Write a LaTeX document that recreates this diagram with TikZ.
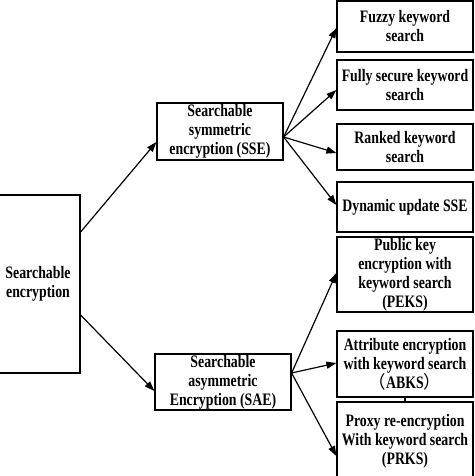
\documentclass[tikz,border=0pt]{standalone}
\usepackage{fontspec}
\setmainfont{Liberation Serif}[FakeStretch=0.79]
\newfontfamily\cjk{Noto Sans CJK SC}
\usetikzlibrary{arrows.meta,calc}
\tikzset{
  box/.style={draw=black, line width=1.2pt, inner sep=0pt, align=center,
    font=\fontsize{17.5}{19}\selectfont\bfseries},
  arr/.style={draw=black, line width=1.2pt, -{Triangle[length=10pt,width=7pt]}},
  link/.style={draw=black, line width=1.2pt}
}
\begin{document}
\begin{tikzpicture}[x=1pt,y=-1pt]
\useasboundingbox (0,0) rectangle (474,476);
% left root
\node[box, minimum width=84pt, minimum height=178pt] (se) at (38,284) {Searchable\\encryption};
% middle
\node[box, minimum width=126pt, minimum height=57pt] (sse) at (220,131.5) {Searchable\\symmetric\\encryption (SSE)};
\node[box, minimum width=136pt, minimum height=56pt] (sae) at (223,382) {Searchable\\asymmetric\\Encryption (SAE)};
% right column
\node[box, minimum width=136pt, minimum height=51pt] (fuzzy) at (405,26.5) {Fuzzy keyword\\search};
\node[box, minimum width=136pt, minimum height=50pt] (fully) at (405,85) {Fully secure keyword\\search};
\node[box, minimum width=136pt, minimum height=46pt] (ranked) at (405,147) {Ranked keyword\\search};
\node[box, minimum width=136pt, minimum height=50pt] (dyn) at (405,207) {Dynamic update SSE};
\node[box, minimum width=136pt, minimum height=75pt] (peks) at (405,274.5) {Public key\\encryption with\\keyword search\\(PEKS)};
\node[box, minimum width=136pt, minimum height=66pt] (abks) at (405,364) {Attribute encryption\\with keyword search\\{\cjk\mdseries （}ABKS{\cjk\mdseries ）}};
\node[box, minimum width=136pt, minimum height=78pt] (prks) at (405,441) {Proxy re-encryption\\With keyword search\\(PRKS)};
% connectors
\coordinate (sseo) at ($(sse.east)+(0,5.5)$);
\coordinate (saeo) at ($(sae.east)+(0,-9)$);
\draw[arr] ($(se.east)+(0,-52)$) -- ($(sse.west)+(0,10.5)$);
\draw[arr] ($(se.east)+(0,31)$) -- ($(sae.west)+(0,9)$);
\draw[arr] (sseo) -- ($(fuzzy.west)+(0,1.5)$);
\draw[arr] (sseo) -- ($(fully.west)+(0,5)$);
\draw[arr] (sseo) -- ($(ranked.west)+(0,6)$);
\draw[arr] (sseo) -- ($(dyn.west)+(0,-2)$);
\draw[arr] (saeo) -- ($(peks.west)+(0,-1.5)$);
\draw[arr] (saeo) -- ($(abks.west)+(0,-1)$);
\draw[arr] (saeo) -- ($(prks.west)+(0,15)$);
\draw[link] (abks.south) -- (prks.north);
\end{tikzpicture}
\end{document}
